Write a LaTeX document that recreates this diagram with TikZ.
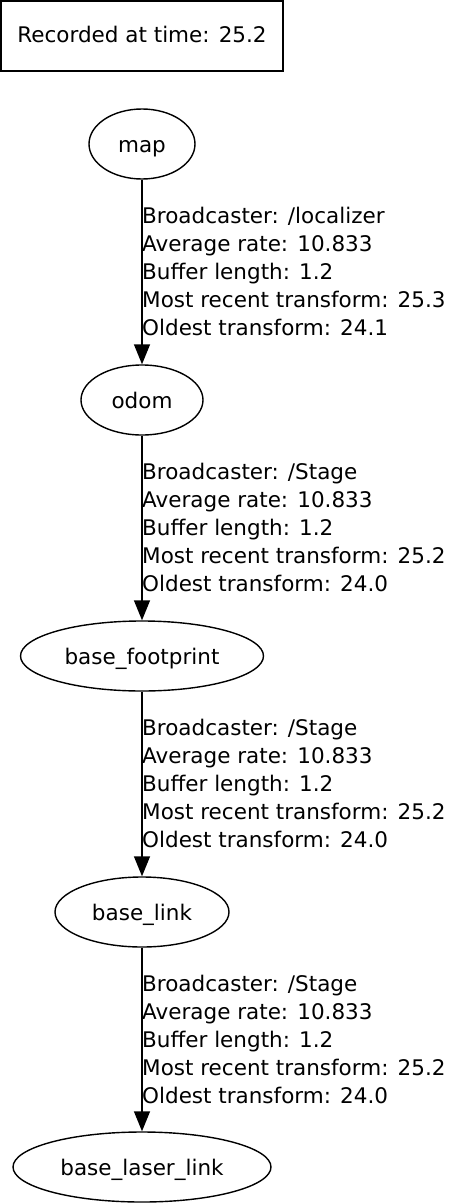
\documentclass[tikz,border=0pt]{standalone}
\usepackage{fontspec}
\setmainfont{DejaVu Sans}
\usetikzlibrary{shapes.geometric,arrows.meta}
\begin{document}
\begin{tikzpicture}[x=1pt,y=-1pt,
  frame/.style={ellipse,draw,line width=1.4pt,inner sep=0pt,minimum height=70pt,text height=18pt,text depth=2pt,font=\fontsize{21.5}{24}\selectfont},
  edge/.style={line width=1.4pt,-{Triangle[length=20pt,width=16pt]}},
  elabel/.style={anchor=north west,inner sep=0pt,align=left,font=\fontsize{21.5}{28}\selectfont}]
\useasboundingbox (0,0) rectangle (451,1204);
\node[draw,line width=1.4pt,minimum width=282pt,minimum height=70pt,inner sep=0pt,text height=16pt,text depth=2pt,font=\fontsize{21.5}{24}\selectfont] (rec) at (142,36) {Recorded at time: 25.2};
\node[frame,minimum width=106pt] (map) at (142,144) {map};
\node[frame,minimum width=122pt] (odom) at (142,400) {odom};
\node[frame,minimum width=243pt] (bf) at (142,656) {base\_footprint};
\node[frame,minimum width=174pt] (bl) at (142,912) {base\_link};
\node[frame,minimum width=258pt] (bll) at (142,1167) {base\_laser\_link};
\draw[edge] (map.south) -- (odom.north);
\draw[edge] (odom.south) -- (bf.north);
\draw[edge] (bf.south) -- (bl.north);
\draw[edge] (bl.south) -- (bll.north);
\node[elabel] (l1) at (142,207) {Broadcaster: /localizer\\Average rate: 10.833\\Buffer length: 1.2\\Most recent transform: 25.3\\Oldest transform: 24.1};
\node[elabel] (l2) at (142,463) {Broadcaster: /Stage\\Average rate: 10.833\\Buffer length: 1.2\\Most recent transform: 25.2\\Oldest transform: 24.0};
\node[elabel] (l3) at (142,719) {Broadcaster: /Stage\\Average rate: 10.833\\Buffer length: 1.2\\Most recent transform: 25.2\\Oldest transform: 24.0};
\node[elabel] (l4) at (142,975) {Broadcaster: /Stage\\Average rate: 10.833\\Buffer length: 1.2\\Most recent transform: 25.2\\Oldest transform: 24.0};
\end{tikzpicture}
\end{document}
